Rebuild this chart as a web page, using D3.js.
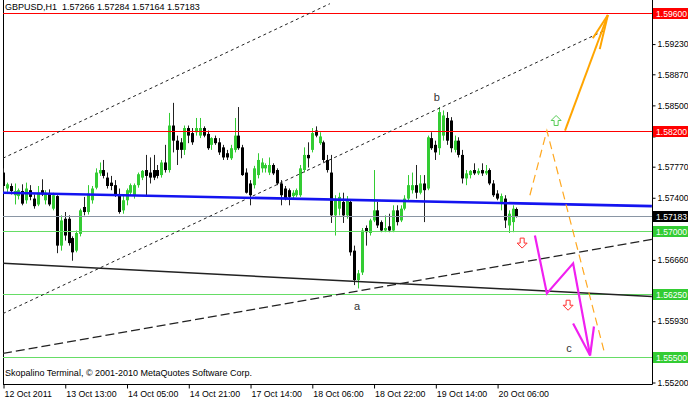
<!DOCTYPE html>
<html><head><meta charset="utf-8">
<script src="https://cdn.jsdelivr.net/npm/d3@7"></script>
<style>
body{margin:0;background:#fff}
svg{display:block}
text{font-family:"Liberation Sans",Arial,sans-serif}
</style>
</head><body>
<svg id="chart" width="688" height="401"></svg>
<script>
// ---------- DATA ----------
const barOpen=[1.5770,1.5751,1.5754,1.5743,1.5742,1.5748,1.5737,1.5749,1.5739,1.5732,1.5749,1.5737,1.5745,1.5727,1.5742,1.5683,1.5715,1.5715,1.5692,1.5677,1.5697,1.5729,1.5723,1.5737,1.5752,1.5769,1.5773,1.5764,1.5758,1.5755,1.5744,1.5725,1.5737,1.5746,1.5743,1.5755,1.5764,1.5773,1.5770,1.5773,1.5773,1.5767,1.5782,1.5773,1.5826,1.5808,1.5806,1.5797,1.5823,1.5817,1.5818,1.5814,1.5823,1.5816,1.5803,1.5811,1.5806,1.5800,1.5793,1.5787,1.5797,1.5814,1.5800,1.5770,1.5757,1.5755,1.5767,1.5775,1.5775,1.5770,1.5779,1.5773,1.5757,1.5751,1.5749,1.5742,1.5743,1.5743,1.5773,1.5791,1.5797,1.5820,1.5805,1.5806,1.5785,1.5770,1.5719,1.5727,1.5735,1.5719,1.5735,1.5677,1.5642,1.5651,1.5704,1.5698,1.5713,1.5725,1.5711,1.5701,1.5706,1.5701,1.5725,1.5713,1.5727,1.5739,1.5749,1.5755,1.5746,1.5757,1.5751,1.5811,1.5803,1.5799,1.5814,1.5835,1.5832,1.5797,1.5808,1.5791,1.5763,1.5767,1.5773,1.5769,1.5773,1.5769,1.5773,1.5757,1.5745,1.5733,1.5739,1.5707,1.5711,1.57266];
const barHigh=[1.5775,1.5758,1.5757,1.5757,1.5751,1.5756,1.5758,1.5755,1.5744,1.5754,1.5762,1.5749,1.5750,1.5746,1.5743,1.5719,1.5723,1.5719,1.5694,1.5701,1.5727,1.5741,1.5755,1.5754,1.5775,1.5782,1.5785,1.5770,1.5766,1.5761,1.5751,1.5743,1.5751,1.5757,1.5757,1.5770,1.5773,1.5791,1.5788,1.5791,1.5779,1.5785,1.5803,1.5841,1.5853,1.5814,1.5811,1.5826,1.5826,1.5823,1.5835,1.5835,1.5825,1.5820,1.5812,1.5814,1.5811,1.5803,1.5797,1.5803,1.5835,1.5848,1.5803,1.5775,1.5761,1.5778,1.5793,1.5787,1.5781,1.5788,1.5781,1.5775,1.5761,1.5754,1.5751,1.5749,1.5751,1.5779,1.5800,1.5806,1.5823,1.5825,1.5818,1.5808,1.5791,1.5791,1.5743,1.5746,1.5746,1.5742,1.5737,1.5683,1.5654,1.5704,1.5707,1.5715,1.5773,1.5735,1.5713,1.5719,1.5721,1.5731,1.5731,1.5731,1.5743,1.5767,1.5770,1.5779,1.5767,1.5767,1.5814,1.5818,1.5808,1.5848,1.5844,1.5842,1.5836,1.5814,1.5812,1.5797,1.5773,1.5773,1.5781,1.5775,1.5781,1.5779,1.5775,1.5761,1.5749,1.5745,1.5743,1.5725,1.5731,1.57284];
const barLow=[1.5746,1.5746,1.5744,1.5732,1.5738,1.5731,1.5733,1.5737,1.5727,1.5730,1.5742,1.5732,1.5730,1.5725,1.5674,1.5677,1.5689,1.5683,1.5665,1.5675,1.5694,1.5719,1.5720,1.5733,1.5750,1.5766,1.5763,1.5751,1.5749,1.5741,1.5721,1.5721,1.5731,1.5743,1.5739,1.5752,1.5761,1.5743,1.5757,1.5761,1.5763,1.5764,1.5770,1.5770,1.5794,1.5779,1.5787,1.5791,1.5805,1.5803,1.5814,1.5811,1.5812,1.5797,1.5797,1.5803,1.5791,1.5785,1.5785,1.5785,1.5794,1.5797,1.5766,1.5745,1.5731,1.5751,1.5763,1.5770,1.5770,1.5767,1.5767,1.5755,1.5731,1.5737,1.5731,1.5739,1.5741,1.5741,1.5770,1.5776,1.5794,1.5812,1.5803,1.5782,1.5770,1.5710,1.5695,1.5719,1.5710,1.5715,1.5671,1.5636,1.5632,1.5648,1.5683,1.5695,1.5711,1.5704,1.5699,1.5699,1.5699,1.5699,1.5707,1.5711,1.5725,1.5737,1.5745,1.5739,1.5744,1.5711,1.5749,1.5797,1.5785,1.5791,1.5808,1.5803,1.5794,1.5794,1.5788,1.5757,1.5755,1.5763,1.5767,1.5767,1.5766,1.5767,1.5755,1.5741,1.5737,1.5725,1.5704,1.5698,1.5699,1.57164];
const barClose=[1.5754,1.5756,1.5748,1.5748,1.5749,1.5733,1.5751,1.5741,1.5730,1.5746,1.5744,1.5746,1.5732,1.5743,1.5683,1.5713,1.5695,1.5686,1.5675,1.5698,1.5725,1.5723,1.5745,1.5751,1.5770,1.5773,1.5766,1.5754,1.5754,1.5743,1.5723,1.5737,1.5749,1.5755,1.5755,1.5768,1.5772,1.5766,1.5764,1.5764,1.5766,1.5782,1.5773,1.5826,1.5808,1.5797,1.5797,1.5823,1.5814,1.5806,1.5823,1.5823,1.5814,1.5799,1.5811,1.5805,1.5794,1.5788,1.5788,1.5799,1.5814,1.5799,1.5767,1.5746,1.5743,1.5775,1.5785,1.5782,1.5779,1.5779,1.5769,1.5757,1.5743,1.5739,1.5741,1.5746,1.5749,1.5775,1.5791,1.5787,1.5817,1.5814,1.5813,1.5785,1.5773,1.5719,1.5737,1.5741,1.5719,1.5737,1.5675,1.5642,1.5650,1.5701,1.5699,1.5713,1.5725,1.5707,1.5701,1.5704,1.5701,1.5725,1.5711,1.5727,1.5739,1.5755,1.5755,1.5746,1.5757,1.5749,1.5812,1.5799,1.5794,1.5842,1.5838,1.5808,1.5799,1.5808,1.5791,1.5763,1.5769,1.5772,1.5769,1.5772,1.5769,1.5772,1.5757,1.5743,1.5739,1.5742,1.5713,1.5721,1.5727,1.57183];

const priceTicks=[1.59600,1.59230,1.58870,1.58500,1.58130,1.57770,1.57400,1.57030,1.56660,1.56290,1.55930,1.55560,1.55200];
const timeTickBars=[0,16,32,48,64,80,96,112,128];
const timeTickLabels=["12 Oct 2011","13 Oct 13:00","14 Oct 05:00","14 Oct 21:00","17 Oct 14:00","18 Oct 06:00","18 Oct 22:00","19 Oct 14:00","20 Oct 06:00"];

const levelPrices=[1.5960,1.5820,1.5700,1.5625,1.5550];
const levelColors=["#ff0000","#ff0000","#66dd66","#66dd66","#66dd66"];
const levelBoxColors=["#ff0000","#ff0000","#33cc33","#33cc33","#33cc33"];
const bidPrice=1.57183;
const titleText="GBPUSD,H1  1.57266 1.57284 1.57164 1.57183";
const footerText="Skopalino Terminal, \u00A9 2001-2010 MetaQuotes Software Corp.";

// trend lines: [bar, price] anchor pairs
const blueTrend=[[0,1.5746],[168.1,1.5730]];
const blackTrend=[[0,1.56619],[168.1,1.56225]];
const dashedTrend=[[0,1.55546],[168.1,1.56905]];
const dottedUpper=[[0,1.57871],[84.7,1.59711]];
const dottedMiddle=[[0,1.56021],[156.0,1.59395]];
const orangeSolid=[[145.6,1.5820],[156.7,1.59576]];
const orangeBarbs=[[[156.7,1.59576],[154.6,1.5917]],[[156.7,1.59576],[152.8,1.5930]]];
const orangeDashed=[[136.5,1.5743],[140.9,1.5820],[156.0,1.55522]];
const magentaPath=[[137.8,1.5695],[140.9,1.56261],[147.7,1.56619],[152.1,1.55522]];
const magentaBarbs=[[[147.7,1.55903],[152.1,1.55522]],[[153.1,1.55867],[152.1,1.55522]]];
const upArrows=[[143.3,1.5832]];
const downArrows=[[134.5,1.5686],[146.4,1.5612]];
const waveLabels=["a","b","c"];
const waveBars=[91.7,112.4,146.6];
const wavePrices=[1.5611,1.5860,1.5561];

// ---------- DRAW ----------
const svg=d3.select("#chart");
const L=3, R=652, T=0, B=384.5;
const x=d3.scaleLinear().domain([0,168]).range([3,651.48]);
const y=d3.scaleLinear().domain([1.5520,1.5960]).range([382.5,13]);
const ry=p=>Math.round(y(p))+0.5;

svg.append("defs").append("clipPath").attr("id","plot")
  .append("rect").attr("x",L).attr("y",T).attr("width",R-L).attr("height",B-T);

// frame
svg.append("line").attr("x1",L+0.5).attr("x2",L+0.5).attr("y1",T).attr("y2",B).attr("stroke","#000");
svg.append("line").attr("x1",L).attr("x2",R+0.5).attr("y1",B).attr("y2",B).attr("stroke","#000");
svg.append("line").attr("x1",R+0.5).attr("x2",R+0.5).attr("y1",T).attr("y2",B).attr("stroke","#000");

// label boxes (for collision test of tick labels)
const boxes=levelPrices.map((p,i)=>({p,fill:levelBoxColors[i]})).concat([{p:bidPrice,fill:"#000"}]);
const covered=t=>boxes.some(b=>Math.abs(y(b.p)-y(t))<9);

// right axis
const ay=svg.append("g").attr("transform",`translate(${R+0.5},0)`)
  .call(d3.axisRight(y).tickValues(priceTicks).tickFormat(d=>covered(d)?"":d.toFixed(5)).tickSize(3).tickPadding(2));
ay.select(".domain").remove();
ay.selectAll("text").attr("font-size","8.6px").attr("fill","#000").style("font-family","'Liberation Sans',Arial,sans-serif");
ay.selectAll("line").attr("stroke","#000");

// bottom axis
const ax=svg.append("g").attr("transform",`translate(0,${B})`)
  .call(d3.axisBottom(x).tickValues(timeTickBars).tickFormat((d,i)=>timeTickLabels[i]).tickSize(4).tickPadding(2));
ax.select(".domain").remove();
ax.selectAll("line").attr("stroke","#000").attr("transform","translate(0.5,0)");
ax.selectAll("text").attr("text-anchor","start").attr("dx","1").attr("font-size","8.8px").attr("fill","#000").style("font-family","'Liberation Sans',Arial,sans-serif");

const plot=svg.append("g").attr("clip-path","url(#plot)");

// candles
const idx=d3.range(barOpen.length);
const bull=i=>barClose[i]>=barOpen[i];
const px=i=>Math.round(x(i))+0.5;
plot.append("g").selectAll("line").data(idx).join("line")
  .attr("x1",px).attr("x2",px)
  .attr("y1",i=>y(barHigh[i])).attr("y2",i=>y(barLow[i]))
  .attr("stroke",i=>bull(i)?"#33cc33":"#222").attr("stroke-width",1);
plot.append("g").selectAll("rect").data(idx).join("rect")
  .attr("x",i=>px(i)-1.5).attr("width",3)
  .attr("y",i=>y(Math.max(barOpen[i],barClose[i])))
  .attr("height",i=>Math.max(1,Math.abs(y(barOpen[i])-y(barClose[i]))))
  .attr("fill",i=>bull(i)?"#33cc33":"#000");

const line=d3.line().x(d=>x(d[0])).y(d=>y(d[1]));

// horizontal levels
const levelG=plot.append("g").attr("shape-rendering","crispEdges");
levelPrices.forEach((p,i)=>{
  levelG.append("line").attr("x1",L).attr("x2",R).attr("y1",ry(p)).attr("y2",ry(p))
    .style("stroke",levelColors[i]).style("stroke-width","1px");
});
levelG.append("line").attr("x1",L).attr("x2",R).attr("y1",ry(bidPrice)).attr("y2",ry(bidPrice))
  .style("stroke","#8a96a4").style("stroke-width","1px");

// trend lines
plot.append("path").datum(dottedUpper).attr("d",line).attr("fill","none").attr("stroke","#222").attr("stroke-dasharray","3,3");
plot.append("path").datum(dottedMiddle).attr("d",line).attr("fill","none").attr("stroke","#222").attr("stroke-dasharray","3,3");
plot.append("path").datum(dashedTrend).attr("d",line).attr("fill","none").attr("stroke","#222").attr("stroke-width",1.2).attr("stroke-dasharray","9,4");
plot.append("path").datum(blackTrend).attr("d",line).attr("fill","none").attr("stroke","#222").attr("stroke-width",1.5);
plot.append("path").datum(blueTrend).attr("d",line).attr("fill","none").attr("stroke","#1414f0").attr("stroke-width",2.6);

// orange
plot.append("path").datum(orangeDashed).attr("d",line).attr("fill","none").attr("stroke","#ffa820").attr("stroke-width",1.2).attr("stroke-dasharray","8,5");
plot.append("path").datum(orangeSolid).attr("d",line).attr("fill","none").attr("stroke","#ffa500").attr("stroke-width",2);
orangeBarbs.forEach(b=>plot.append("path").datum(b).attr("d",line).attr("fill","none").attr("stroke","#ffa500").attr("stroke-width",2));

// magenta
plot.append("path").datum(magentaPath).attr("d",line).attr("fill","none").attr("stroke","#f020f0").attr("stroke-width",2.2).attr("stroke-linejoin","miter");
magentaBarbs.forEach(b=>plot.append("path").datum(b).attr("d",line).attr("fill","none").attr("stroke","#f020f0").attr("stroke-width",2.2));

// hollow arrow symbols
const upShape="M0,-5 L5,0 L2,0 L2,5 L-2,5 L-2,0 L-5,0 Z";
const downShape="M0,5 L5,0 L2,0 L2,-5 L-2,-5 L-2,0 L-5,0 Z";
plot.selectAll(".ua").data(upArrows).join("path").attr("class","ua")
  .attr("transform",d=>`translate(${x(d[0])},${y(d[1])})`).attr("d",upShape)
  .attr("fill","#fff").attr("stroke","#55cc55").attr("stroke-width",1);
plot.selectAll(".da").data(downArrows).join("path").attr("class","da")
  .attr("transform",d=>`translate(${x(d[0])},${y(d[1])})`).attr("d",downShape)
  .attr("fill","#fff").attr("stroke","#ff3030").attr("stroke-width",1);

// wave labels
svg.selectAll(".wl").data(waveLabels).join("text").attr("class","wl")
  .attr("x",(d,i)=>x(waveBars[i])).attr("y",(d,i)=>y(wavePrices[i]))
  .attr("text-anchor","middle").attr("dy","0.35em").attr("font-size","11px").attr("fill","#333").text(d=>d);

// right-side level labels
const bg=svg.append("g");
bg.selectAll("rect").data(boxes).join("rect")
  .attr("x",R+1).attr("y",d=>Math.round(y(d.p))-5).attr("width",688-R-1).attr("height",11).attr("fill",d=>d.fill);
bg.selectAll("text").data(boxes).join("text")
  .attr("x",R+4).attr("y",d=>Math.round(y(d.p))+3.5).attr("font-size","8.6px").attr("fill","#fff").text(d=>d.p.toFixed(5));

// title & footer
svg.append("text").attr("x",5).attr("y",10).attr("font-size","9px").attr("fill","#000").style("white-space","pre").text(titleText);
svg.append("text").attr("x",5).attr("y",376).attr("font-size","9px").attr("fill","#000").text(footerText);
</script>
</body></html>
